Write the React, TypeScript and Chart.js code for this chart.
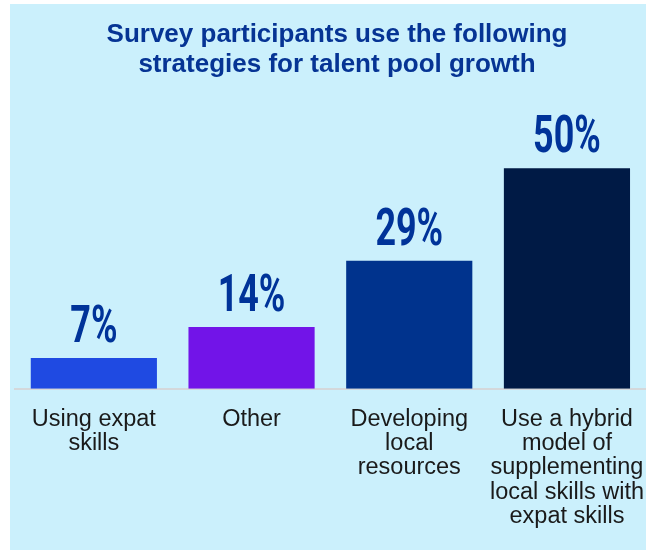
import React, { useEffect, useRef } from "react";
import { Chart, registerables } from "chart.js";

Chart.register(...registerables);

const titleLines = ["Survey participants use the following", "strategies for talent pool growth"];
const categories = [
  ["Using expat", "skills"],
  ["Other"],
  ["Developing", "local", "resources"],
  ["Use a hybrid", "model of", "supplementing", "local skills with", "expat skills"],
];
const values = [7, 14, 29, 50];
const barColors = ["#1F4AE2", "#7214E8", "#00338D", "#001A45"];
const valueTexts = values.map((v) => v + "%");

const valueLabelPlugin = {
  id: "valueLabelPlugin",
  afterDatasetsDraw(chart: any) {
    const ctx = chart.ctx;
    const meta = chart.getDatasetMeta(0);
    meta.data.forEach((bar: any, i: number) => {
      ctx.save();
      ctx.translate(bar.x, bar.y - 16);
      ctx.scale(0.69, 1);
      ctx.font = 'bold 52px Roboto, "Liberation Sans", sans-serif';
      ctx.textAlign = "center";
      ctx.textBaseline = "alphabetic";
      ctx.fillStyle = "#003399";
      ctx.fillText(valueTexts[i], 0, 0);
      ctx.restore();
    });
  },
};

const titleShiftPlugin = {
  id: "titleShiftPlugin",
  afterLayout(chart: any) {
    if (chart.titleBlock) {
      chart.titleBlock.left += 13;
      chart.titleBlock.right -= 16;
    }
  },
};

export default function App() {
  const ref = useRef<HTMLCanvasElement | null>(null);
  useEffect(() => {
    if (!ref.current) return;
    const chart = new Chart(ref.current, {
      type: "bar",
      data: {
        labels: categories,
        datasets: [
          {
            data: values,
            backgroundColor: barColors,
            borderWidth: 0,
            barPercentage: 0.8,
            categoryPercentage: 1.0,
          },
        ],
      },
      options: {
        animation: false,
        responsive: false,
        layout: { padding: { left: 5, right: 0, top: 0, bottom: 0 } },
        plugins: {
          legend: { display: false },
          tooltip: { enabled: false },
          title: {
            display: true,
            text: titleLines,
            color: "#063494",
            font: { family: '"Liberation Sans", Arial, sans-serif', size: 26, weight: "bold", lineHeight: 30 / 26 },
            padding: { top: 16, bottom: 44 },
          },
        },
        scales: {
          x: {
            grid: { display: false, drawTicks: false },
            border: { display: true, color: "#D4D8DB", width: 2 },
            ticks: {
              color: "#1a1a1a",
              font: { family: '"Liberation Sans", Arial, sans-serif', size: 23.5, lineHeight: 1.04 },
              padding: 18,
              maxRotation: 0,
              minRotation: 0,
              autoSkip: false,
            },
          },
          y: {
            display: false,
            min: 0,
            max: 60,
          },
        },
      },
      plugins: [valueLabelPlugin, titleShiftPlugin],
    });
    return () => chart.destroy();
  }, []);

  return (
    <div
      style={{
        position: "absolute",
        left: 10,
        top: 4,
        width: 636,
        height: 546,
        background: "#CBF0FC",
        overflow: "hidden",
      }}
    >
      <canvas ref={ref} width={652} height={543} style={{ display: "block" }} />
    </div>
  );
}
